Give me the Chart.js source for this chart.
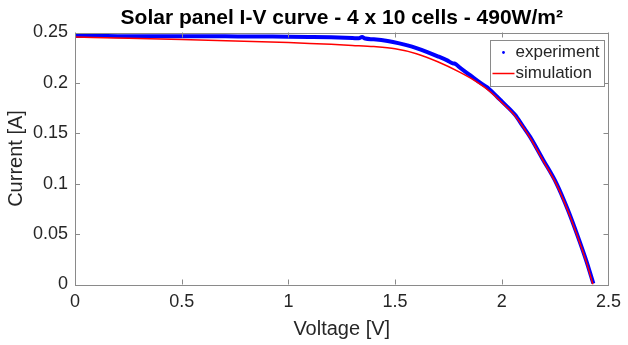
<!DOCTYPE html>
<html>
<head>
<meta charset="utf-8">
<script src="https://cdn.jsdelivr.net/npm/chart.js@4/dist/chart.umd.min.js"></script>
<style>
  html, body { margin: 0; padding: 0; background: #fff; }
  #wrap { width: 628px; height: 345px; }
</style>
</head>
<body>
<div id="wrap"><canvas id="chartIV"></canvas></div>
<script>
// datos
const expVoltage = [0, 0.1, 0.2, 0.3, 0.4, 0.5, 0.6, 0.7, 0.8, 0.9, 1.0, 1.1, 1.2, 1.3, 1.33, 1.345, 1.36, 1.4,
  1.465, 1.52, 1.558, 1.6, 1.651, 1.7, 1.744, 1.77, 1.778, 1.786, 1.8, 1.853, 1.9, 1.93, 1.977, 2.0, 2.062,
  2.1, 2.132, 2.194, 2.256, 2.31, 2.357, 2.395, 2.429];
const expCurrent = [0.2465, 0.2465, 0.2464, 0.2464, 0.2463, 0.2463, 0.2462, 0.2462, 0.2461, 0.246, 0.2459,
  0.2456, 0.2452, 0.2445, 0.2442, 0.2456, 0.244, 0.2432,
  0.2415, 0.2392, 0.2372, 0.2345, 0.2306, 0.2264, 0.2223, 0.2194, 0.2192, 0.2184, 0.2158, 0.2074, 0.2, 0.1958,
  0.1865, 0.1816, 0.1683, 0.1566, 0.1467, 0.1236, 0.1004, 0.0739, 0.0473, 0.0242, 0.001];

const simVoltage = [0, 0.25, 0.5, 0.75, 1.0, 1.1, 1.2, 1.3, 1.4, 1.5, 1.6, 1.7, 1.8, 1.85, 1.9, 1.95, 2.0,
  2.062, 2.132, 2.194, 2.256, 2.31, 2.357, 2.395, 2.427];
const simCurrent = [0.2455, 0.2443, 0.243, 0.2416, 0.24, 0.2392, 0.2383, 0.2372, 0.236, 0.2338, 0.229,
  0.221, 0.211, 0.2052, 0.1985, 0.1905, 0.1805, 0.1673, 0.1457, 0.1226, 0.0994, 0.0729, 0.0463, 0.0232, 0];

const xTicks = [0, 0.5, 1, 1.5, 2, 2.5];
const yTicks = [0, 0.05, 0.1, 0.15, 0.2, 0.25];

const FONT = '"Liberation Sans", Arial, Helvetica, sans-serif';
const TXT = '#262626';
const FRAME = '#8a8a8a';

function pts(xs, ys) {
  return xs.map((x, i) => ({ x: x, y: ys[i] }));
}

// marco + ticks hacia dentro (estilo matlab)
const boxPlugin = {
  id: 'boxPlugin',
  afterDatasetsDraw(chart) {
    const { ctx, chartArea: a, scales } = chart;
    ctx.save();
    ctx.strokeStyle = FRAME;
    ctx.lineWidth = 1;
    ctx.beginPath();
    xTicks.forEach((v) => {
      const px = Math.round(scales.x.getPixelForValue(v)) + 0.5;
      ctx.moveTo(px, a.bottom); ctx.lineTo(px, a.bottom - 5);
      ctx.moveTo(px, a.top); ctx.lineTo(px, a.top + 5);
    });
    yTicks.forEach((v) => {
      const py = Math.round(scales.y.getPixelForValue(v)) + 0.5;
      ctx.moveTo(a.left, py); ctx.lineTo(a.left + 5, py);
      ctx.moveTo(a.right, py); ctx.lineTo(a.right - 5, py);
    });
    ctx.stroke();
    ctx.strokeRect(Math.round(a.left) + 0.5, Math.round(a.top) + 0.5,
      Math.round(a.right - a.left), Math.round(a.bottom - a.top));
    ctx.restore();
  }
};

// leyenda con caja
const legendBox = {
  id: 'legendBox',
  afterDraw(chart) {
    const { ctx, chartArea: a } = chart;
    const ds = chart.data.datasets;
    const w = 114, h = 46;
    const x0 = a.right - 4 - w, y0 = a.top + 7;
    ctx.save();
    ctx.fillStyle = '#fff';
    ctx.fillRect(x0, y0, w, h);
    ctx.strokeStyle = FRAME;
    ctx.lineWidth = 1;
    ctx.strokeRect(Math.round(x0) + 0.5, Math.round(y0) + 0.5, w, h);
    ctx.font = '17px ' + FONT;
    ctx.fillStyle = TXT;
    ctx.textBaseline = 'middle';
    ds.forEach((d, i) => {
      const cy = y0 + 13 + i * 21;
      if (d.legendDot) {
        ctx.fillStyle = d.borderColor;
        ctx.beginPath();
        ctx.arc(x0 + 13, cy, 1.4, 0, Math.PI * 2);
        ctx.fill();
      } else {
        ctx.strokeStyle = d.borderColor;
        ctx.lineWidth = 1.5;
        ctx.beginPath();
        ctx.moveTo(x0 + 2, cy); ctx.lineTo(x0 + 24, cy);
        ctx.stroke();
      }
      ctx.fillStyle = TXT;
      ctx.fillText(d.label, x0 + 25, cy);
    });
    ctx.restore();
  }
};

new Chart(document.getElementById('chartIV'), {
  type: 'scatter',
  data: {
    datasets: [
      {
        label: 'experiment',
        data: pts(expVoltage, expCurrent),
        showLine: true,
        borderColor: '#0000ff',
        backgroundColor: '#0000ff',
        borderWidth: 4,
        pointRadius: 0,
        cubicInterpolationMode: 'monotone',
        legendDot: true,
        order: 2
      },
      {
        label: 'simulation',
        data: pts(simVoltage, simCurrent),
        showLine: true,
        borderColor: '#ff0000',
        backgroundColor: '#ff0000',
        borderWidth: 1.5,
        pointRadius: 0,
        cubicInterpolationMode: 'monotone',
        order: 1
      }
    ]
  },
  options: {
    responsive: true,
    maintainAspectRatio: false,
    animation: false,
    layout: { padding: { top: 0, right: 16, bottom: 0, left: 0 } },
    plugins: {
      legend: { display: false },
      tooltip: { enabled: false },
      title: {
        display: true,
        fullSize: false,
        text: 'Solar panel I-V curve - 4 x 10 cells - 490W/m²',
        color: '#000',
        font: { family: FONT, size: 21, weight: 'bold', lineHeight: 1.2 },
        padding: { top: 6, bottom: 1.3 }
      }
    },
    scales: {
      x: {
        type: 'linear',
        min: 0,
        max: 2.5,
        afterFit: (s) => { s.height = 60.5; },
        afterBuildTicks: (s) => { s.ticks = xTicks.map((v) => ({ value: v })); },
        grid: { display: false, drawTicks: false },
        border: { display: false },
        ticks: {
          color: TXT,
          padding: 7,
          font: { family: FONT, size: 18 },
          callback: (v) => String(Number(v.toFixed(3)))
        },
        title: {
          display: true,
          text: 'Voltage [V]',
          color: TXT,
          font: { family: FONT, size: 20 },
          padding: { top: 0, bottom: 4 }
        }
      },
      y: {
        type: 'linear',
        min: 0,
        max: 0.25,
        afterFit: (s) => { s.width = 75; },
        afterBuildTicks: (s) => { s.ticks = yTicks.map((v) => ({ value: v })); },
        grid: { display: false, drawTicks: false },
        border: { display: false },
        ticks: {
          color: TXT,
          padding: 7,
          font: { family: FONT, size: 18 },
          callback: (v) => String(Number(v.toFixed(3)))
        },
        title: {
          display: true,
          text: 'Current [A]',
          color: TXT,
          font: { family: FONT, size: 20 },
          padding: { top: 4, bottom: 0 }
        }
      }
    }
  },
  plugins: [boxPlugin, legendBox]
});
</script>
</body>
</html>
